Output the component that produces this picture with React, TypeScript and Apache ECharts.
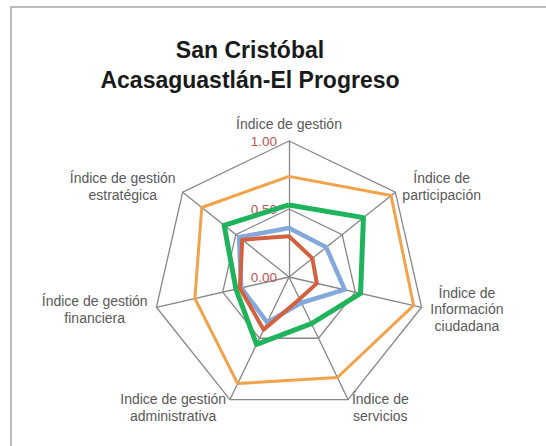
import React, { useEffect, useRef } from "react";
import * as echarts from "echarts";

// Indicator names, listed clockwise starting from the top
const indicatorNames = [
  "Índice de gestión",
  "Índice de\nparticipación",
  "Índice de\nInformación\nciudadana",
  "Índice de\nservicios",
  "Indice de gestión\nadministrativa",
  "Índice de gestión\nfinanciera",
  "Índice de gestión\nestratégica",
];

const axisMax = 1;
const axisInterval = 0.5;

const seriesOrange = [0.74, 0.96, 0.94, 0.82, 0.87, 0.71, 0.82];
const seriesGreen = [0.53, 0.7, 0.54, 0.38, 0.55, 0.4, 0.61];
const seriesBlue = [0.36, 0.35, 0.42, 0.21, 0.37, 0.36, 0.47];
const seriesRed = [0.3, 0.22, 0.21, 0.18, 0.43, 0.37, 0.44];

const titleText = "San Cristóbal\nAcasaguastlán-El Progreso";

// ECharts lays indicators counter-clockwise; reorder so they run clockwise
function clockwise<T>(arr: T[]): T[] {
  return [arr[0], ...arr.slice(1).reverse()];
}

export default function App() {
  const ref = useRef<HTMLDivElement>(null);

  useEffect(() => {
    if (!ref.current) return;
    const chart = echarts.init(ref.current, undefined, { renderer: "svg" });
    const names = clockwise(indicatorNames);
    const indicator = names.map((name, i) => ({
      name,
      min: 0,
      max: axisMax,
      ...(i === 0 ? { axisLabel: { show: true } } : {}),
    }));

    const seriesDefs = [
      { name: "A", values: seriesOrange, color: "#f2a24a", width: 3 },
      { name: "B", values: seriesGreen, color: "#1fb35c", width: 5 },
      { name: "C", values: seriesBlue, color: "#82a8dc", width: 4.5 },
      { name: "D", values: seriesRed, color: "#d3613f", width: 4 },
    ];

    const font = "'Liberation Sans', Arial, sans-serif";

    chart.setOption({
      animation: false,
      graphic: [
        {
          type: "rect",
          shape: { x: 11, y: 7, width: 700, height: 700 },
          style: { fill: "none", stroke: "#a6a6a6", lineWidth: 1.5 },
          silent: true,
        },
        {
          type: "text",
          style: {
            text: titleText,
            x: 250,
            y: 35,
            textAlign: "center",
            textVerticalAlign: "top",
            font: `bold 23px ${font}`,
            lineHeight: 30,
            fill: "#1a1a1a",
          },
        },
      ],
      radar: {
        center: [289, 277],
        radius: 136,
        splitNumber: axisMax / axisInterval,
        shape: "polygon",
        nameGap: 9,
        axisName: {
          color: "#595959",
          fontSize: 14,
          fontFamily: font,
          formatter: (name: string) =>
            name
              .split("\n")
              .map((l) => `{c|${l}}`)
              .join("\n"),
          rich: {
            c: {
              align: "center",
              color: "#595959",
              fontSize: 14,
              lineHeight: 16.5,
              fontFamily: font,
            },
          },
        },
        axisLabel: {
          show: false,
          color: "#bd5550",
          fontSize: 13.5,
          margin: 12,
          fontFamily: font,
          formatter: (v: number) => v.toFixed(2),
        },
        axisTick: { show: false },
        axisLine: { lineStyle: { color: "#878787", width: 1.3 } },
        splitLine: { lineStyle: { color: "#878787", width: 1.3 } },
        splitArea: { show: false },
        indicator,
      },
      series: [
        {
          type: "radar",
          symbol: "none",
          data: seriesDefs.map((s) => ({
            name: s.name,
            value: clockwise(s.values),
            lineStyle: { color: s.color, width: s.width },
            itemStyle: { color: s.color },
          })),
        },
      ],
    });
    return () => chart.dispose();
  }, []);

  return (
    <div
      ref={ref}
      style={{ position: "absolute", left: 0, top: 0, width: 546, height: 446 }}
    />
  );
}
